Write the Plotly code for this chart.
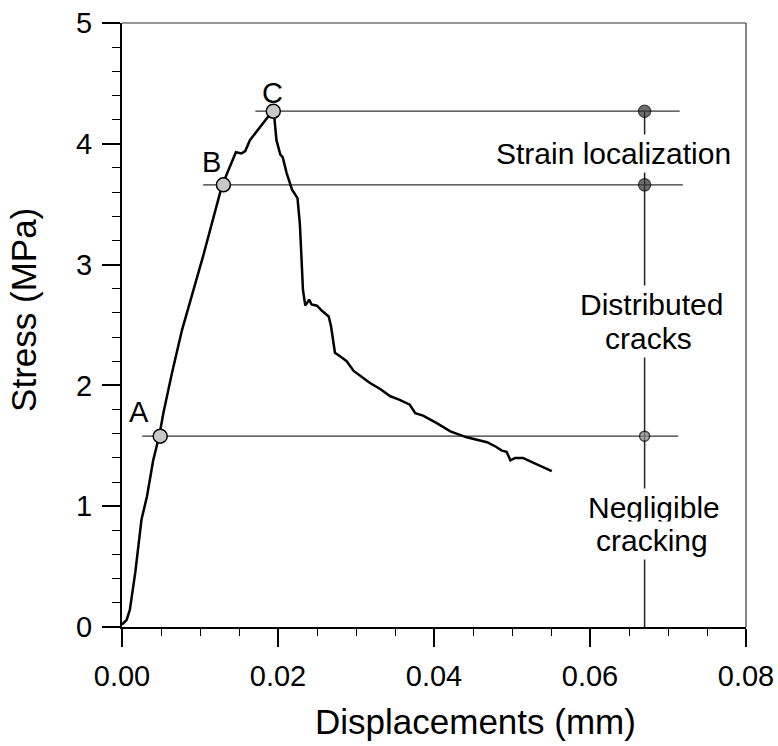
import plotly.graph_objects as go

# ---- data ----
disp = [0, 0.0006, 0.001, 0.0017, 0.0025, 0.0032, 0.004, 0.0048, 0.0053, 0.0064,
        0.0077, 0.0085, 0.0104, 0.0128, 0.0138, 0.0146, 0.0153, 0.0158, 0.0164, 0.0177,
        0.019, 0.0194, 0.0195, 0.0198, 0.0203, 0.0206, 0.0211, 0.0218, 0.0225, 0.0228,
        0.0230, 0.0232, 0.0235, 0.024, 0.0243, 0.025, 0.0256, 0.0265, 0.0268, 0.0273,
        0.028, 0.0288, 0.0297, 0.0307, 0.0318, 0.0331, 0.0344, 0.0356, 0.0369, 0.0376,
        0.0386, 0.0403, 0.0421, 0.0442, 0.0468, 0.048, 0.0487, 0.0493, 0.0498, 0.0504,
        0.0514, 0.0527, 0.054, 0.0551]
stress = [0.02, 0.06, 0.14, 0.45, 0.89, 1.08, 1.38, 1.59, 1.77, 2.10,
          2.46, 2.64, 3.07, 3.65, 3.81, 3.93, 3.92, 3.94, 4.03, 4.14,
          4.24, 4.28, 4.24, 4.03, 3.91, 3.89, 3.76, 3.62, 3.55, 3.34,
          3.07, 2.79, 2.66, 2.71, 2.67, 2.66, 2.62, 2.57, 2.49, 2.27,
          2.24, 2.20, 2.12, 2.07, 2.02, 1.97, 1.91, 1.88, 1.84, 1.77,
          1.75, 1.69, 1.62, 1.57, 1.53, 1.49, 1.46, 1.45, 1.38, 1.40,
          1.40, 1.36, 1.32, 1.29]

point_labels = ["A", "B", "C"]
point_x = [0.0049, 0.0130, 0.0194]
level_y = [1.58, 3.66, 4.27]
line_start_x = [0.0026, 0.0104, 0.0171]
line_end_x = [0.0713, 0.0719, 0.0715]
stage_x = 0.067

stage_texts = ["Negligible", "cracking", "Distributed", "cracks", "Strain localization"]
stage_text_x = [0.0682, 0.0680, 0.0679, 0.0675, 0.0630]
stage_text_y = [0.99, 0.72, 2.67, 2.39, 3.92]

label_x = [0.0022, 0.0115, 0.0193]
label_y = [1.78, 3.85, 4.42]

x_ticks = [0, 0.02, 0.04, 0.06, 0.08]
y_ticks = [0, 1, 2, 3, 4, 5]

FONT = "Liberation Sans, Arial, sans-serif"

fig = go.Figure()

# vertical stage line
fig.add_trace(go.Scatter(x=[stage_x, stage_x], y=[0, max(level_y)], mode="lines",
                         line=dict(color="#222", width=1.5), showlegend=False, hoverinfo="skip"))

# horizontal level lines
for xs, xe, yl in zip(line_start_x, line_end_x, level_y):
    fig.add_trace(go.Scatter(x=[xs, xe], y=[yl, yl], mode="lines",
                             line=dict(color="#333", width=1.2), showlegend=False, hoverinfo="skip"))

# main curve
fig.add_trace(go.Scatter(x=disp, y=stress, mode="lines",
                         line=dict(color="black", width=2.5), showlegend=False))

# markers on curve
fig.add_trace(go.Scatter(x=point_x, y=level_y, mode="markers",
                         marker=dict(size=14, color="#c8c8c8", line=dict(color="black", width=1.5)),
                         showlegend=False))
# markers on stage line
fig.add_trace(go.Scatter(x=[stage_x] * len(level_y), y=level_y, mode="markers",
                         marker=dict(size=[10, 12, 12], color=["#888", "#333", "#333"],
                                     line=dict(color="black", width=1.5)),
                         showlegend=False))

annotations = []
for t, x, y in zip(point_labels, label_x, label_y):
    annotations.append(dict(x=x, y=y, xref="x", yref="y", text=t, showarrow=False,
                            xanchor="center", yanchor="middle",
                            font=dict(family=FONT, size=29, color="black")))
for t, x, y in zip(stage_texts, stage_text_x, stage_text_y):
    annotations.append(dict(x=x, y=y, xref="x", yref="y", text=t, showarrow=False,
                            xanchor="center", yanchor="middle",
                            bgcolor="white", borderpad=2,
                            font=dict(family=FONT, size=30, color="black")))
annotations.append(dict(x=-0.157, y=0.525, xref="paper", yref="paper", text="Stress (MPa)",
                        textangle=-90, showarrow=False, xanchor="center", yanchor="middle",
                        font=dict(family=FONT, size=35, color="black")))
annotations.append(dict(x=0.567, y=-0.157, xref="paper", yref="paper", text="Displacements (mm)",
                        showarrow=False, xanchor="center", yanchor="middle",
                        font=dict(family=FONT, size=35, color="black")))

fig.update_layout(
    width=778, height=746,
    margin=dict(l=122, r=32, t=23, b=119, autoexpand=False),
    paper_bgcolor="white", plot_bgcolor="white",
    font=dict(family=FONT, color="black"),
    annotations=annotations,
    shapes=[
        dict(type="line", xref="paper", yref="paper", x0=0, x1=1, y0=1, y1=1,
             line=dict(color="#333", width=1.2)),
        dict(type="line", xref="paper", yref="paper", x0=1, x1=1, y0=0, y1=1,
             line=dict(color="#333", width=1.2)),
    ],
)

fig.update_xaxes(range=[0, 0.08], tickvals=x_ticks, tickformat=".2f", automargin=False,
                 showgrid=False, zeroline=False, showline=True, linecolor="black", linewidth=2,
                 ticks="outside", ticklen=18, tickwidth=1.5, tickcolor="black",
                 ticklabelstandoff=4,
                 tickfont=dict(family=FONT, size=29, color="black"),
                 minor=dict(dtick=0.005, tick0=0, ticks="outside", ticklen=7, tickwidth=1.2,
                            tickcolor="black", showgrid=False))
fig.update_yaxes(range=[0, 5], tickvals=y_ticks, automargin=False,
                 showgrid=False, zeroline=False, showline=True, linecolor="black", linewidth=2,
                 ticks="outside", ticklen=18, tickwidth=1.5, tickcolor="black",
                 ticklabelstandoff=4,
                 tickfont=dict(family=FONT, size=29, color="black"),
                 minor=dict(dtick=0.2, tick0=0, ticks="outside", ticklen=8, tickwidth=1.2,
                            tickcolor="black", showgrid=False))

fig.write_html("out.html")
